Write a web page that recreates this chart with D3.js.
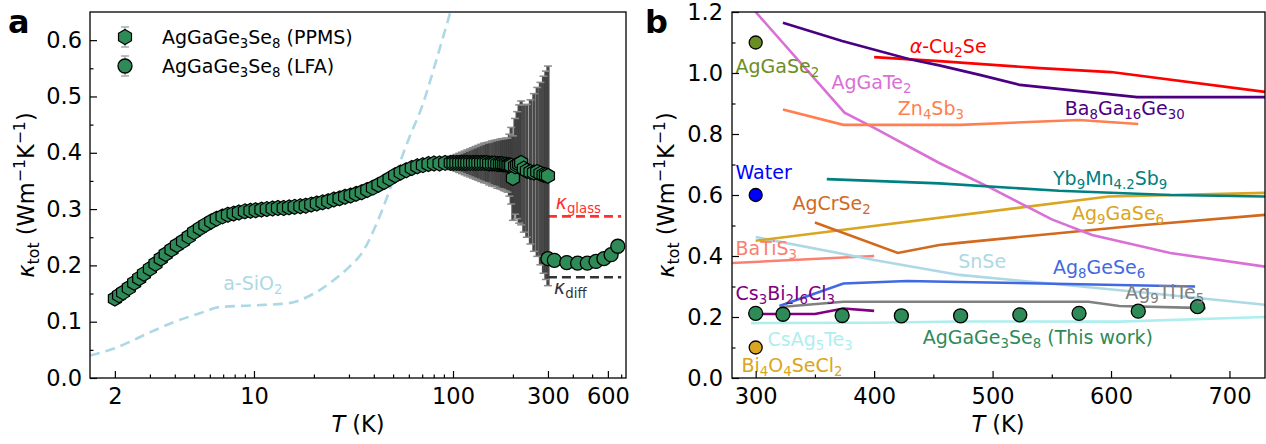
<!DOCTYPE html>
<html lang="en">
<head>
<meta charset="UTF-8">
<title>AgGaGe3Se8 thermal conductivity</title>
<script src="https://d3js.org/d3.v7.min.js"></script>
<style>
  body { margin: 0; background: #fff; }
  svg text { font-family: "DejaVu Sans", sans-serif; }
</style>
</head>
<body>
<svg id="chart" width="1266" height="444"></svg>
<script>
// ---- panel a : AgGaGe3Se8 PPMS (low T) ----
var ppmsT = [2.0, 2.1, 2.2, 2.35, 2.5, 2.65, 2.8, 3.0, 3.2, 3.4,
             3.6, 3.85, 4.1, 4.4, 4.7, 5.0, 5.35, 5.7, 6.1, 6.5,
             6.95, 7.4, 7.9, 8.4, 9.0, 9.6, 10.2, 10.9, 11.6, 12.4,
             13.2, 14.1, 15.0, 16.0, 17.1, 18.2, 19.4, 20.7, 22.1, 23.6,
             25.2, 26.9, 28.7, 30.6, 32.6, 34.8, 37.1, 39.6, 42.2, 45.0,
             48.0, 51.2, 54.6, 58.2, 62.1, 66.2, 70.6, 75.3, 80.3, 85.6,
             91.3, 97.4, 100.5, 104, 107.5, 111, 114.5, 118, 122, 126,
             130, 134, 138.5, 143, 147.5, 152, 157, 162, 167, 172,
             176, 180, 184, 188, 192, 196, 200, 205, 210, 215,
             220, 227, 235, 245, 255, 265, 275, 285, 293, 300];
var ppmsK = [0.141, 0.147, 0.152, 0.160, 0.169, 0.177, 0.185, 0.194, 0.203, 0.212,
             0.220, 0.228, 0.236, 0.243, 0.251, 0.259, 0.266, 0.272, 0.278, 0.283,
             0.287, 0.290, 0.292, 0.294, 0.296, 0.297, 0.298, 0.299, 0.300, 0.301,
             0.302, 0.302, 0.303, 0.304, 0.305, 0.306, 0.308, 0.310, 0.312, 0.314,
             0.317, 0.319, 0.322, 0.324, 0.327, 0.330, 0.334, 0.338, 0.343, 0.348,
             0.354, 0.360, 0.365, 0.369, 0.373, 0.376, 0.378, 0.380, 0.381, 0.381,
             0.382, 0.382, 0.382, 0.382, 0.382, 0.382, 0.382, 0.382, 0.382, 0.382,
             0.382, 0.382, 0.382, 0.382, 0.382, 0.381, 0.381, 0.381, 0.380, 0.380,
             0.380, 0.379, 0.379, 0.378, 0.378, 0.377, 0.355, 0.376, 0.378, 0.380,
             0.382, 0.372, 0.368, 0.366, 0.365, 0.366, 0.363, 0.361, 0.360, 0.359];
var ppmsErr = [0.003, 0.003, 0.003, 0.003, 0.003, 0.003, 0.003, 0.003, 0.003, 0.003,
               0.003, 0.003, 0.003, 0.003, 0.003, 0.003, 0.003, 0.003, 0.003, 0.003,
               0.003, 0.003, 0.003, 0.003, 0.003, 0.003, 0.003, 0.003, 0.003, 0.003,
               0.003, 0.003, 0.003, 0.003, 0.003, 0.003, 0.003, 0.003, 0.003, 0.003,
               0.003, 0.003, 0.003, 0.003, 0.003, 0.003, 0.003, 0.003, 0.003, 0.003,
               0.003, 0.003, 0.003, 0.003, 0.003, 0.003, 0.003, 0.003, 0.005, 0.007,
               0.009, 0.012, 0.013, 0.015, 0.017, 0.019, 0.021, 0.023, 0.025, 0.027,
               0.029, 0.031, 0.033, 0.035, 0.036, 0.038, 0.040, 0.041, 0.043, 0.044,
               0.045, 0.046, 0.047, 0.048, 0.055, 0.068, 0.075, 0.085, 0.095, 0.105,
               0.110, 0.113, 0.118, 0.128, 0.140, 0.150, 0.162, 0.175, 0.185, 0.195];

// LFA (high T), also used for "This work" in panel b
var lfaT = [300, 323, 373, 423, 473, 523, 573, 623, 673];
var lfaK = [0.212, 0.209, 0.205, 0.204, 0.204, 0.207, 0.212, 0.219, 0.234];

// amorphous SiO2 reference curve
var sio2T = [1.5, 2, 3, 4, 5.35, 6.7, 10, 15, 20, 25, 30, 35, 42, 50, 60, 70, 83, 97];
var sio2K = [0.040, 0.053, 0.081, 0.100, 0.115, 0.126, 0.129, 0.133, 0.150, 0.173,
             0.197, 0.223, 0.280, 0.350, 0.425, 0.483, 0.568, 0.650];

// glass / diffuson limits
var limitT = [300, 700];
var kGlass = 0.287;
var kDiff = 0.179;

// ---- panel b : literature comparison [T, kappa] ----
var cu2se    = [[400, 1.052], [455, 1.039], [540, 1.016], [600, 1.003], [730, 0.938]];
var ba8ga16  = [[323, 1.165], [373, 1.105], [430, 1.045], [455, 1.025], [490, 0.993], [523, 0.961], [622, 0.921], [730, 0.921]];
var aggate2  = [[300, 1.2], [375, 0.87], [400, 0.82], [455, 0.705], [500, 0.62], [550, 0.52], [584, 0.469], [650, 0.41], [730, 0.365]];
var zn4sb3   = [[323, 0.88], [374, 0.83], [473, 0.83], [573, 0.846], [623, 0.833]];
var yb9mn    = [[360, 0.652], [455, 0.638], [556, 0.614], [650, 0.60], [730, 0.595]];
var ag9gase6 = [[300, 0.45], [598, 0.595], [730, 0.607]];
var agcrse2  = [[350, 0.51], [420, 0.41], [455, 0.436], [472, 0.443], [540, 0.469], [623, 0.50], [730, 0.535]];
var batis3   = [[280, 0.377], [400, 0.40]];
var snse     = [[300, 0.462], [400, 0.387], [472, 0.338], [623, 0.282], [730, 0.24]];
var ag8gese6 = [[320, 0.236], [374, 0.31], [428, 0.318], [472, 0.315], [671, 0.30]];
var ag9tlte5 = [[321, 0.233], [374, 0.25], [581, 0.25], [607, 0.236], [680, 0.229]];
var cs3bi2   = [[300, 0.21], [350, 0.21], [374, 0.228], [400, 0.22]];
var csag5te3 = [[296, 0.18], [400, 0.181], [472, 0.185], [607, 0.185], [730, 0.2]];
var aggase2Pt = [300, 1.1];
var waterPt   = [300, 0.6];
var bi4o4Pt   = [300, 0.1];

// tick values
var aXLabeled = [2, 10, 100, 300, 600];
var aXMinor = [3, 4, 5, 6, 7, 8, 9, 20, 30, 40, 50, 60, 70, 80, 90, 200, 400, 500, 700];
var aYMajor = [0, 0.1, 0.2, 0.3, 0.4, 0.5, 0.6];
var aYMinor = [0.05, 0.15, 0.25, 0.35, 0.45, 0.55];
var bXMajor = [300, 400, 500, 600, 700];
var bXMinor = [350, 450, 550, 650];
var bYMajor = [0, 0.2, 0.4, 0.6, 0.8, 1.0, 1.2];
var bYMinor = [0.1, 0.3, 0.5, 0.7, 0.9, 1.1];

var svg = d3.select("#chart");
var tickFs = 22.5, labFs = 19;

// text with *italic*, _{sub} and ^{sup} pieces
function rich(t, str, fs) {
    var parts = str.split(/(\*[^*]+\*|_\{[^}]*\}|\^\{[^}]*\})/).filter(p => p.length);
    var shift = 0;
    parts.forEach(p => {
        var ts = t.append("tspan"), target = 0, size = fs, content = p;
        if (p[0] === "_") { target = fs * 0.22; size = fs * 0.7; content = p.slice(2, -1); }
        else if (p[0] === "^") { target = -fs * 0.4; size = fs * 0.7; content = p.slice(2, -1); }
        else if (p[0] === "*") { ts.attr("font-style", "italic"); content = p.slice(1, -1); }
        ts.attr("dy", target - shift).attr("font-size", size).text(content);
        shift = target;
    });
    return t;
}

function hexPath(r) {
    var pts = d3.range(6).map(i => {
        var a = (-90 + 60 * i) * Math.PI / 180;
        return [r * Math.cos(a), r * Math.sin(a)];
    });
    return "M" + pts.join("L") + "Z";
}

function axes(g, x, y, xMajor, xMinor, yMajor, yMinor, yFmt, ypad) {
    var x0 = x.range()[0], x1 = x.range()[1], y0 = y.range()[0], y1 = y.range()[1];
    g.append("g").attr("transform", `translate(0,${y0})`)
        .call(d3.axisBottom(x).tickValues(xMinor).tickSize(-3.5).tickFormat(""))
        .call(a => a.select(".domain").remove());
    g.append("g").attr("transform", `translate(0,${y0})`)
        .call(d3.axisBottom(x).tickValues(xMajor).tickSize(-7).tickPadding(10).tickFormat(d3.format("d")))
        .call(a => a.select(".domain").remove());
    g.append("g").attr("transform", `translate(${x0},0)`)
        .call(d3.axisLeft(y).tickValues(yMinor).tickSize(-3.5).tickFormat(""))
        .call(a => a.select(".domain").remove());
    g.append("g").attr("transform", `translate(${x0},0)`)
        .call(d3.axisLeft(y).tickValues(yMajor).tickSize(-7).tickPadding(ypad).tickFormat(yFmt))
        .call(a => a.select(".domain").remove());
    g.selectAll(".tick line").attr("stroke", "#000").attr("stroke-width", 1.2);
    g.selectAll(".tick text").attr("font-size", tickFs).attr("fill", "#000")
        .attr("font-family", "DejaVu Sans, sans-serif");
    g.append("rect").attr("x", x0).attr("y", y1).attr("width", x1 - x0).attr("height", y0 - y1)
        .attr("fill", "none").attr("stroke", "#000").attr("stroke-width", 1.3);
}

// ================= panel a =================
var xA = d3.scaleLog().domain([1.5, 740]).range([90, 626]);
var yA = d3.scaleLinear().domain([0, 0.65]).range([378, 12]);

svg.append("clipPath").attr("id", "clipA").append("rect")
    .attr("x", 90).attr("y", 12).attr("width", 536).attr("height", 366);
var gA = svg.append("g");
var plotA = gA.append("g").attr("clip-path", "url(#clipA)");

var sio2 = sio2T.map((t, i) => [t, sio2K[i]]);
plotA.append("path")
    .attr("d", d3.line().x(d => xA(d[0])).y(d => yA(d[1])).curve(d3.curveMonotoneX)(sio2))
    .attr("fill", "none").attr("stroke", "#add8e6").attr("stroke-width", 2.6)
    .attr("stroke-dasharray", "10,6");

plotA.append("line").attr("x1", xA(limitT[0])).attr("x2", xA(limitT[1]))
    .attr("y1", yA(kGlass)).attr("y2", yA(kGlass))
    .attr("stroke", "#ff3030").attr("stroke-width", 2.6).attr("stroke-dasharray", "9,5");
plotA.append("line").attr("x1", xA(limitT[0])).attr("x2", xA(limitT[1]))
    .attr("y1", yA(kDiff)).attr("y2", yA(kDiff))
    .attr("stroke", "#333").attr("stroke-width", 2.6).attr("stroke-dasharray", "9,5");

var ppms = ppmsT.map((t, i) => ({t: t, k: ppmsK[i], e: ppmsErr[i]}));

// error bars
var eb = plotA.append("g");
eb.selectAll("line.bar").data(ppms).join("line").attr("class", "bar")
    .attr("x1", d => xA(d.t)).attr("x2", d => xA(d.t))
    .attr("y1", d => yA(d.k - d.e)).attr("y2", d => yA(d.k + d.e))
    .attr("stroke", "#3a3a3a").attr("stroke-width", 3.2).attr("opacity", 0.92);
eb.selectAll("line.cap").data(ppms.flatMap(d => [d.k - d.e, d.k + d.e].map(v => ({t: d.t, v: v}))))
    .join("line").attr("class", "cap")
    .attr("x1", d => xA(d.t) - 4).attr("x2", d => xA(d.t) + 4)
    .attr("y1", d => yA(d.v)).attr("y2", d => yA(d.v))
    .attr("stroke", "#8a8a8a").attr("stroke-width", 1.5);

plotA.append("g").selectAll("path").data(ppms).join("path")
    .attr("d", hexPath(7.5))
    .attr("transform", d => `translate(${xA(d.t)},${yA(d.k)})`)
    .attr("fill", "#2e8b57").attr("stroke", "#000").attr("stroke-width", 1.2);

plotA.append("g").selectAll("circle").data(lfaT.map((t, i) => [t, lfaK[i]])).join("circle")
    .attr("cx", d => xA(d[0])).attr("cy", d => yA(d[1])).attr("r", 7)
    .attr("fill", "#2e8b57").attr("stroke", "#000").attr("stroke-width", 1.3);

axes(gA, xA, yA, aXLabeled, aXMinor, aYMajor, aYMinor, d3.format(".1f"), 8);

rich(gA.append("text").attr("x", xA(7.0)).attr("y", yA(0.156)).attr("fill", "#add8e6"),
    "a-SiO_{2}", labFs);
rich(gA.append("text").attr("x", xA(328)).attr("y", yA(0.30)).attr("fill", "#ff3030"),
    "*κ*_{glass}", labFs);
rich(gA.append("text").attr("x", xA(322)).attr("y", yA(0.15)).attr("fill", "#333"),
    "*κ*_{diff}", labFs);

// legend
var leg = gA.append("g");
[[37, "hex", "AgGaGe_{3}Se_{8} (PPMS)"], [66, "circ", "AgGaGe_{3}Se_{8} (LFA)"]].forEach(r => {
    leg.append("line").attr("x1", 125).attr("x2", 125).attr("y1", r[0] - 10).attr("y2", r[0] + 10)
        .attr("stroke", "#aaa").attr("stroke-width", 1.5);
    [r[0] - 10, r[0] + 10].forEach(v => leg.append("line").attr("x1", 121).attr("x2", 129)
        .attr("y1", v).attr("y2", v).attr("stroke", "#aaa").attr("stroke-width", 1.5));
    if (r[1] === "hex") {
        leg.append("path").attr("d", hexPath(7.5)).attr("transform", `translate(125,${r[0]})`)
            .attr("fill", "#2e8b57").attr("stroke", "#000").attr("stroke-width", 1.2);
    } else {
        leg.append("circle").attr("cx", 125).attr("cy", r[0]).attr("r", 7)
            .attr("fill", "#2e8b57").attr("stroke", "#000").attr("stroke-width", 1.3);
    }
    rich(leg.append("text").attr("x", 162).attr("y", r[0] + 6.5).attr("fill", "#000"), r[2], labFs);
});

// ================= panel b =================
var xB = d3.scaleLinear().domain([280, 730]).range([732, 1265]);
var yB = d3.scaleLinear().domain([0, 1.2]).range([378, 12]);

svg.append("clipPath").attr("id", "clipB").append("rect")
    .attr("x", 732).attr("y", 12).attr("width", 533).attr("height", 366);
var gB = svg.append("g");
var plotB = gB.append("g").attr("clip-path", "url(#clipB)");

var seriesB = [
    {d: batis3, c: "#fa8072"},
    {d: snse, c: "#add8e6"},
    {d: csag5te3, c: "#afeeee"},
    {d: ag9gase6, c: "#daa520"},
    {d: agcrse2, c: "#d2691e"},
    {d: aggate2, c: "#da70d6"},
    {d: yb9mn, c: "#008080"},
    {d: zn4sb3, c: "#ff7f50"},
    {d: cu2se, c: "#ff0000"},
    {d: ba8ga16, c: "#4b0082"},
    {d: ag8gese6, c: "#4169e1"},
    {d: ag9tlte5, c: "#808080"},
    {d: cs3bi2, c: "#800080"}
];
var lineB = d3.line().x(d => xB(d[0])).y(d => yB(d[1]));
plotB.selectAll("path.s").data(seriesB).join("path").attr("class", "s")
    .attr("d", s => lineB(s.d)).attr("fill", "none")
    .attr("stroke", s => s.c).attr("stroke-width", 2.6);

var ptsB = [{p: aggase2Pt, c: "#6b8e23"}, {p: waterPt, c: "#0000ff"}, {p: bi4o4Pt, c: "#daa520"}];
plotB.selectAll("circle.p").data(ptsB).join("circle").attr("class", "p")
    .attr("cx", d => xB(d.p[0])).attr("cy", d => yB(d.p[1])).attr("r", 6.5)
    .attr("fill", d => d.c).attr("stroke", "#000").attr("stroke-width", 1.3);

plotB.selectAll("circle.w").data(lfaT.map((t, i) => [t, lfaK[i]])).join("circle").attr("class", "w")
    .attr("cx", d => xB(d[0])).attr("cy", d => yB(d[1])).attr("r", 7)
    .attr("fill", "#2e8b57").attr("stroke", "#000").attr("stroke-width", 1.3);

var labelsB = [
    ["AgGaSe_{2}", 283, 1.0, "#6b8e23"],
    ["*α*-Cu_{2}Se", 430, 1.066, "#ff0000"],
    ["AgGaTe_{2}", 364, 0.948, "#da70d6"],
    ["Zn_{4}Sb_{3}", 420, 0.862, "#ff7f50"],
    ["Ba_{8}Ga_{16}Ge_{30}", 561, 0.862, "#4b0082"],
    ["Water", 283, 0.652, "#0000ff"],
    ["Yb_{9}Mn_{4.2}Sb_{9}", 551, 0.633, "#008080"],
    ["AgCrSe_{2}", 331, 0.551, "#d2691e"],
    ["Ag_{9}GaSe_{6}", 567, 0.518, "#daa520"],
    ["BaTiS_{3}", 283, 0.403, "#fa8072"],
    ["SnSe", 471, 0.361, "#add8e6"],
    ["Ag_{8}GeSe_{6}", 551, 0.341, "#4169e1"],
    ["Cs_{3}Bi_{2}I_{6}Cl_{3}", 283, 0.256, "#800080"],
    ["Ag_{9}TlTe_{5}", 612, 0.259, "#808080"],
    ["CsAg_{5}Te_{3}", 310, 0.105, "#afeeee"],
    ["AgGaGe_{3}Se_{8} (This work)", 441, 0.111, "#2e8b57"],
    ["Bi_{4}O_{4}SeCl_{2}", 288, 0.02, "#daa520"]
];
labelsB.forEach(l => {
    rich(gB.append("text").attr("x", xB(l[1])).attr("y", yB(l[2])).attr("fill", l[3]), l[0], labFs);
});

axes(gB, xB, yB, bXMajor, bXMinor, bYMajor, bYMinor, d3.format(".1f"), 9);

// axis titles and panel letters
rich(svg.append("text").attr("transform", "translate(34,195) rotate(-90)")
    .attr("text-anchor", "middle"), "*κ*_{tot} (Wm^{−1}K^{−1})", tickFs);
rich(svg.append("text").attr("transform", "translate(674,195) rotate(-90)")
    .attr("text-anchor", "middle"), "*κ*_{tot} (Wm^{−1}K^{−1})", tickFs);
rich(svg.append("text").attr("x", 358).attr("y", 432).attr("text-anchor", "middle"), "*T* (K)", tickFs);
rich(svg.append("text").attr("x", 998).attr("y", 432).attr("text-anchor", "middle"), "*T* (K)", tickFs);

svg.append("text").attr("x", 8).attr("y", 33).attr("font-size", 32).attr("font-weight", "bold").text("a");
svg.append("text").attr("x", 645).attr("y", 33).attr("font-size", 32).attr("font-weight", "bold").text("b");
</script>
</body>
</html>
